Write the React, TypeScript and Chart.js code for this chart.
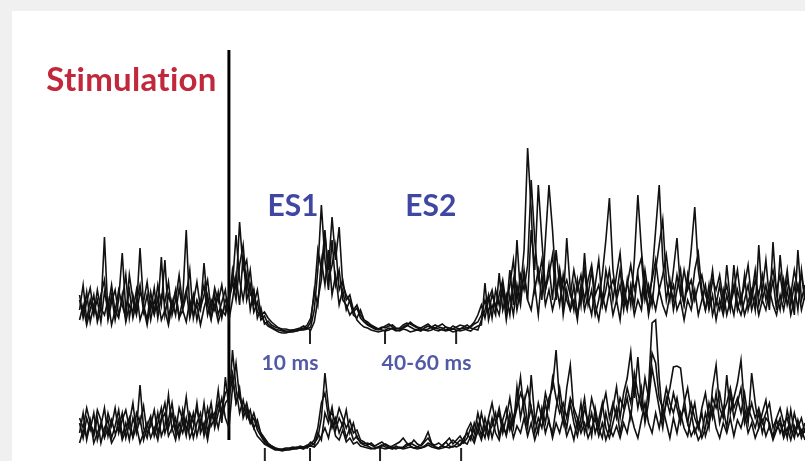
import React, { useEffect, useRef } from "react";
import { Chart, registerables } from "chart.js";

Chart.register(...registerables);

// time grid of the sweeps (ms relative to the stimulation)
const T_START = -42;
const T_STEP = 1;

// channel baselines (amplitude units)
const UPPER_BASE = 131;
const LOWER_BASE = 13;

// upper channel sweeps (rectified EMG amplitude)
const upper1 = [
  20, 45, 10, 30, 15, 40, 20, 93, 15, 35,
  10, 30, 77, 20, 40, 12, 28, 45, 18, 35,
  10, 30, 20, 73, 15, 35, 22, 40, 12, 30,
  100, 18, 35, 10, 28, 45, 15, 30, 20, 38,
  12, 30, 25, 60, 40, 108, 60, 70, 35, 40,
  18, 15, 8, 4, 2, 0, -2, -3, -3, -2,
  -2, -1, 0, 0, 1, 3, 20, 60, 125, 70,
  40, 90, 45, 60, 30, 25, 15, 20, 10, 6,
  3, 2, 0, -1, -2, -1, 0, 2, 1, -1,
  0, 3, 5, 3, 1, 0, -1, 2, 4, 2,
  0, -1, 1, 3, 0, -2, -1, 1, 2, 0,
  -1, 2, 4, 5, 47, 10, 25, 15, 57, 20,
  35, 15, 50, 20, 40, 80, 182, 120, 40, 60,
  30, 90, 145, 100, 45, 25, 55, 30, 20, 45,
  15, 35, 60, 25, 40, 15, 30, 55, 90, 132,
  60, 30, 45, 20, 50, 25, 70, 135, 80, 40,
  20, 55, 100, 145, 70, 30, 50, 20, 40, 60,
  25, 45, 80, 123, 60, 35, 20, 45, 15, 30,
  20, 40, 15, 30, 45, 20, 35, 15, 28, 40,
  20, 85, 30, 45, 20, 88, 35, 20, 50, 25,
  40, 15, 80, 30, 45,
];
const upper2 = [
  30, 15, 38, 8, 25, 12, 35, 50, 10, 28,
  40, 15, 30, 55, 12, 35, 20, 82, 25, 10,
  38, 18, 45, 25, 70, 12, 30, 15, 42, 20,
  35, 60, 12, 30, 20, 67, 25, 10, 35, 15,
  28, 40, 10, 30, 55, 25, 75, 30, 45, 18,
  28, 10, 14, 6, 3, 1, 0, -1, -2, -2,
  -1, -1, 0, 1, 2, 0, 8, 30, 50, 95,
  60, 113, 70, 103, 45, 35, 28, 18, 22, 12,
  8, 5, 3, 1, 0, 2, 4, 6, 3, 1,
  2, 5, 7, 6, 4, 2, 1, 0, 1, 3,
  5, 3, 2, 0, 1, 4, 2, 1, 3, 5,
  2, 1, 0, 10, 20, 35, 12, 40, 25, 45,
  20, 60, 25, 90, 35, 55, 30, 100, 60, 145,
  90, 40, 65, 30, 80, 45, 25, 92, 40, 20,
  50, 25, 77, 30, 15, 45, 70, 25, 40, 60,
  30, 55, 77, 35, 20, 45, 25, 60, 72, 30,
  45, 25, 60, 85, 110, 50, 30, 60, 92, 40,
  25, 55, 30, 60, 77, 40, 20, 35, 60, 25,
  45, 20, 65, 30, 15, 40, 25, 55, 20, 35,
  60, 25, 40, 70, 30, 50, 20, 75, 35, 60,
  25, 45, 20, 60, 30,
];
const upper3 = [
  10, 25, 5, 20, 35, 8, 22, 15, 30, 5,
  20, 12, 35, 8, 25, 18, 40, 10, 22, 5,
  28, 15, 32, 10, 20, 5, 25, 38, 12, 20,
  8, 30, 15, 25, 5, 22, 35, 12, 25, 8,
  20, 15, 30, 45, 95, 50, 30, 55, 20, 40,
  12, 22, 6, 9, 5, 3, 2, 1, 1, 0,
  0, 1, 2, 4, 2, 8, 40, 25, 70, 45,
  80, 35, 55, 25, 40, 20, 30, 15, 12, 20,
  10, 6, 4, 2, 1, 0, -1, 0, 2, 0,
  -1, 1, 0, -2, -1, 0, 1, 0, -1, 0,
  2, 1, 0, -1, 0, 1, 0, -1, 0, 1,
  3, 6, 8, 15, 30, 18, 35, 25, 15, 40,
  10, 35, 15, 45, 25, 60, 30, 20, 45, 15,
  55, 25, 40, 20, 35, 60, 15, 40, 20, 30,
  10, 45, 20, 35, 60, 25, 10, 35, 20, 40,
  15, 30, 10, 45, 25, 40, 15, 30, 20, 50,
  15, 35, 20, 40, 25, 15, 35, 45, 20, 30,
  10, 30, 20, 40, 15, 30, 45, 20, 35, 10,
  30, 15, 35, 20, 65, 25, 15, 30, 45, 20,
  35, 15, 30, 20, 40, 25, 15, 35, 20, 40,
  15, 30, 45, 20, 35,
];
const upper4 = [
  35, 12, 28, 42, 18, 30, 8, 38, 22, 45,
  18, 40, 25, 12, 55, 30, 15, 38, 28, 48,
  20, 42, 12, 35, 28, 48, 15, 30, 55, 25,
  40, 12, 28, 48, 22, 35, 50, 20, 42, 28,
  45, 20, 35, 50, 30, 65, 85, 40, 60, 25,
  40, 15, 18, 12, 8, 5, 2, 0, -1, -1,
  0, 0, 1, 2, 5, 12, 35, 80, 60, 100,
  50, 65, 85, 40, 50, 30, 35, 20, 25, 15,
  10, 8, 5, 3, 1, 3, 2, 4, 5, 2,
  1, 2, 4, 8, 5, 3, 2, 4, 6, 3,
  2, 4, 6, 3, 2, 1, 3, 5, 4, 2,
  4, 8, 15, 25, 12, 30, 40, 20, 35, 50,
  25, 45, 70, 30, 55, 40, 65, 150, 90, 50,
  70, 40, 55, 75, 30, 60, 40, 50, 35, 60,
  40, 55, 30, 50, 65, 35, 45, 25, 60, 40,
  50, 35, 60, 30, 45, 65, 40, 55, 30, 60,
  35, 50, 70, 40, 55, 75, 45, 30, 55, 35,
  60, 40, 50, 30, 45, 55, 35, 25, 50, 40,
  55, 30, 45, 25, 40, 60, 30, 45, 65, 30,
  50, 35, 55, 30, 45, 60, 40, 55, 30, 50,
  35, 60, 40, 55, 30,
];

// lower channel sweeps
const lower1 = [
  15, 35, 8, 25, 12, 30, 5, 20, 28, 10,
  22, 38, 12, 25, 8, 30, 18, 63, 20, 10,
  28, 15, 35, 12, 22, 53, 18, 30, 10, 25,
  51, 20, 35, 12, 28, 18, 40, 22, 30, 58,
  25, 71, 40, 98, 60, 35, 48, 30, 38, 20,
  28, 14, 8, 4, 2, 0, -1, -2, -2, -1,
  -1, 0, 0, 1, 3, 2, 5, 10, 30, 75,
  40, 20, 30, 15, 25, 10, 20, 8, 12, 5,
  3, 2, 0, -1, 1, 3, 1, 0, -1, 2,
  0, 1, 4, 2, 0, 1, 3, 8, 16, 5,
  1, 0, 3, 6, 2, 1, 4, 8, 5, 10,
  20, 8, 25, 12, 30, 15, 22, 35, 12, 28,
  40, 18, 30, 45, 71, 35, 20, 73, 30, 15,
  40, 25, 50, 60, 98, 45, 25, 60, 83, 35,
  20, 45, 15, 30, 12, 40, 20, 10, 35, 18,
  40, 61, 30, 55, 70, 96, 50, 91, 45, 30,
  60, 125, 128, 70, 30, 45, 60, 81, 82, 80,
  50, 25, 12, 20, 8, 15, 35, 20, 60, 83,
  40, 30, 73, 35, 50, 65, 88, 40, 25, 75,
  45, 20, 35, 48, 20, 12, 28, 15, 25, 10,
  38, 15, 25, 10, 20,
];
const lower2 = [
  25, 10, 30, 18, 35, 8, 22, 40, 12, 28,
  15, 20, 35, 10, 25, 45, 15, 30, 8, 22,
  32, 12, 25, 40, 15, 28, 45, 20, 12, 38,
  18, 30, 10, 25, 35, 12, 28, 45, 20, 35,
  50, 30, 20, 60, 85, 50, 40, 35, 25, 30,
  18, 12, 6, 3, 1, -1, -2, -2, -1, -1,
  0, 1, 0, -1, 2, 6, 3, 15, 8, 35,
  25, 41, 18, 30, 22, 38, 15, 25, 10, 6,
  4, 5, 3, 1, 0, 2, 4, 2, 0, -1,
  1, 0, 2, 5, 3, 1, 0, 2, 5, 3,
  1, 0, 2, 1, 4, 8, 5, 3, 10, 15,
  8, 25, 15, 35, 18, 28, 10, 25, 40, 20,
  15, 35, 20, 61, 30, 50, 25, 40, 15, 30,
  20, 45, 25, 15, 40, 60, 35, 20, 45, 25,
  12, 30, 50, 20, 35, 15, 28, 45, 20, 10,
  25, 40, 15, 35, 50, 30, 65, 40, 60, 25,
  45, 80, 60, 40, 20, 50, 35, 55, 40, 25,
  45, 60, 35, 15, 25, 10, 20, 45, 30, 55,
  25, 40, 20, 55, 30, 45, 60, 25, 40, 30,
  20, 35, 15, 30, 25, 10, 20, 30, 12, 38,
  20, 10, 28, 15, 25,
];
const lower3 = [
  5, 18, 12, 28, 5, 15, 25, 10, 20, 5,
  12, 28, 8, 18, 30, 10, 22, 5, 15, 25,
  10, 20, 8, 28, 35, 12, 20, 8, 25, 15,
  30, 10, 20, 45, 15, 25, 8, 30, 35, 20,
  40, 55, 60, 75, 45, 55, 35, 45, 28, 20,
  12, 8, 4, 2, 0, -2, -2, -3, -2, -2,
  -1, -1, 0, 0, 1, 2, 1, 5, 12, 20,
  10, 28, 12, 8, 18, 6, 10, 4, 6, 2,
  1, 0, -1, 0, 1, 0, -1, 0, 1, 0,
  0, -1, 0, 1, 0, -1, 0, 1, 3, 1,
  0, -1, 0, 1, 0, 2, 1, 3, 6, 4,
  12, 5, 18, 8, 22, 10, 30, 15, 8, 25,
  12, 28, 10, 22, 15, 30, 12, 25, 8, 20,
  35, 15, 28, 10, 25, 15, 30, 12, 22, 8,
  28, 15, 25, 10, 20, 30, 12, 25, 8, 20,
  12, 22, 10, 25, 15, 35, 20, 10, 28, 45,
  25, 15, 35, 20, 40, 25, 10, 30, 15, 35,
  20, 12, 30, 45, 20, 35, 12, 25, 40, 20,
  10, 25, 15, 30, 12, 28, 20, 35, 15, 25,
  10, 20, 28, 12, 22, 8, 18, 25, 10, 20,
  8, 22, 12, 18, 8,
];
const lower4 = [
  30, 20, 40, 25, 15, 38, 28, 12, 35, 22,
  40, 15, 28, 38, 20, 12, 35, 25, 42, 15,
  22, 38, 15, 30, 45, 20, 35, 15, 40, 28,
  12, 35, 25, 40, 20, 45, 15, 35, 25, 45,
  30, 45, 50, 70, 45, 60, 30, 40, 25, 35,
  22, 15, 10, 5, 2, 0, -1, -1, 0, 0,
  1, 0, 2, 1, 0, 4, 8, 20, 45, 55,
  30, 35, 25, 40, 30, 20, 28, 15, 18, 8,
  6, 3, 5, 2, 4, 6, 3, 1, 2, 4,
  6, 10, 5, 3, 8, 4, 2, 6, 10, 4,
  3, 5, 2, 6, 10, 4, 8, 12, 6, 18,
  25, 15, 35, 20, 10, 30, 45, 25, 35, 15,
  30, 50, 25, 40, 55, 45, 60, 40, 25, 45,
  30, 55, 40, 70, 50, 35, 45, 30, 50, 40,
  30, 20, 40, 25, 50, 35, 20, 40, 55, 30,
  45, 30, 50, 40, 60, 45, 75, 55, 40, 70,
  50, 95, 85, 50, 40, 60, 45, 35, 50, 30,
  40, 25, 45, 30, 20, 40, 55, 30, 50, 40,
  55, 35, 45, 60, 40, 50, 35, 55, 30, 45,
  30, 40, 25, 35, 45, 20, 30, 40, 25, 30,
  15, 35, 20, 30, 15,
];

// stimulation artifact
const STIM_TIME = 0;
const STIM_LOW = 21;
const STIM_HIGH = 411;

// time markers (ms) below each channel
const upperMarks = [22.8, 43.9, 63.9];
const lowerMarks = [10.1, 22.8, 42.5, 65.3];
const MARK_DEPTH = 14;

// text annotations
const annotations = [
  { text: "Stimulation", x: -27.4, y: 381, font: "bold 33px Lato", color: "#c0283c", spacing: "0.3px" },
  { text: "ES1", x: 18.0, y: 255, font: "bold 30px Lato", color: "#3f47a3", spacing: "0px" },
  { text: "ES2", x: 56.8, y: 255, font: "bold 30px Lato", color: "#3f47a3", spacing: "0px" },
  { text: "10 ms", x: 17.2, y: 98, font: "bold 21px Lato", color: "#5259a6", spacing: "0.2px" },
  { text: "40-60 ms", x: 55.6, y: 98, font: "bold 21px Lato", color: "#5259a6", spacing: "0.2px" },
];

const X_MIN = -61;
const X_MAX = 162;
const Y_MIN = 0;
const Y_MAX = 450;

function sweep(values: number[], base: number) {
  return values.map((v, i) => ({ x: T_START + i * T_STEP, y: base + v }));
}

const annotationPlugin = {
  id: "annotationText",
  afterDatasetsDraw(chart: any) {
    const { ctx, scales } = chart;
    ctx.save();
    for (const a of annotations) {
      ctx.font = a.font;
      ctx.fillStyle = a.color;
      ctx.textAlign = "center";
      ctx.textBaseline = "middle";
      try {
        (ctx as any).letterSpacing = a.spacing;
      } catch (e) {}
      ctx.fillText(a.text, scales.x.getPixelForValue(a.x), scales.y.getPixelForValue(a.y));
    }
    ctx.restore();
  },
};

export default function App() {
  const ref = useRef<HTMLCanvasElement | null>(null);

  useEffect(() => {
    if (!ref.current) return;
    const traceStyle = {
      borderColor: "#111111",
      borderWidth: 1.6,
      pointRadius: 0,
      fill: false,
      tension: 0,
    };
    const datasets: any[] = [
      { ...traceStyle, data: sweep(upper1, UPPER_BASE) },
      { ...traceStyle, data: sweep(upper2, UPPER_BASE) },
      { ...traceStyle, data: sweep(upper3, UPPER_BASE) },
      { ...traceStyle, data: sweep(upper4, UPPER_BASE) },
      { ...traceStyle, data: sweep(lower1, LOWER_BASE) },
      { ...traceStyle, data: sweep(lower2, LOWER_BASE) },
      { ...traceStyle, data: sweep(lower3, LOWER_BASE) },
      { ...traceStyle, data: sweep(lower4, LOWER_BASE) },
      {
        borderColor: "#000000",
        borderWidth: 3,
        pointRadius: 0,
        data: [
          { x: STIM_TIME, y: STIM_LOW },
          { x: STIM_TIME, y: STIM_HIGH },
        ],
      },
    ];
    for (const m of upperMarks) {
      datasets.push({
        borderColor: "#222222",
        borderWidth: 2,
        pointRadius: 0,
        data: [
          { x: m, y: UPPER_BASE },
          { x: m, y: UPPER_BASE - MARK_DEPTH },
        ],
      });
    }
    for (const m of lowerMarks) {
      datasets.push({
        borderColor: "#222222",
        borderWidth: 2,
        pointRadius: 0,
        data: [
          { x: m, y: LOWER_BASE },
          { x: m, y: LOWER_BASE - MARK_DEPTH },
        ],
      });
    }

    const chart = new Chart(ref.current, {
      type: "line",
      data: { datasets },
      options: {
        animation: false,
        responsive: false,
        maintainAspectRatio: false,
        layout: { padding: 0 },
        plugins: { legend: { display: false }, tooltip: { enabled: false } },
        scales: {
          x: { type: "linear", min: X_MIN, max: X_MAX, display: false },
          y: { type: "linear", min: Y_MIN, max: Y_MAX, display: false },
        },
      },
      plugins: [annotationPlugin],
    });
    return () => chart.destroy();
  }, []);

  return (
    <div
      style={{
        position: "fixed",
        left: 0,
        top: 0,
        width: 805,
        height: 461,
        background: "#f0f0f0",
        overflow: "hidden",
      }}
    >
      <div
        style={{
          position: "absolute",
          left: 12,
          top: 11,
          width: 793,
          height: 450,
          background: "#ffffff",
        }}
      >
        <canvas ref={ref} width={793} height={450} style={{ display: "block" }} />
      </div>
    </div>
  );
}
